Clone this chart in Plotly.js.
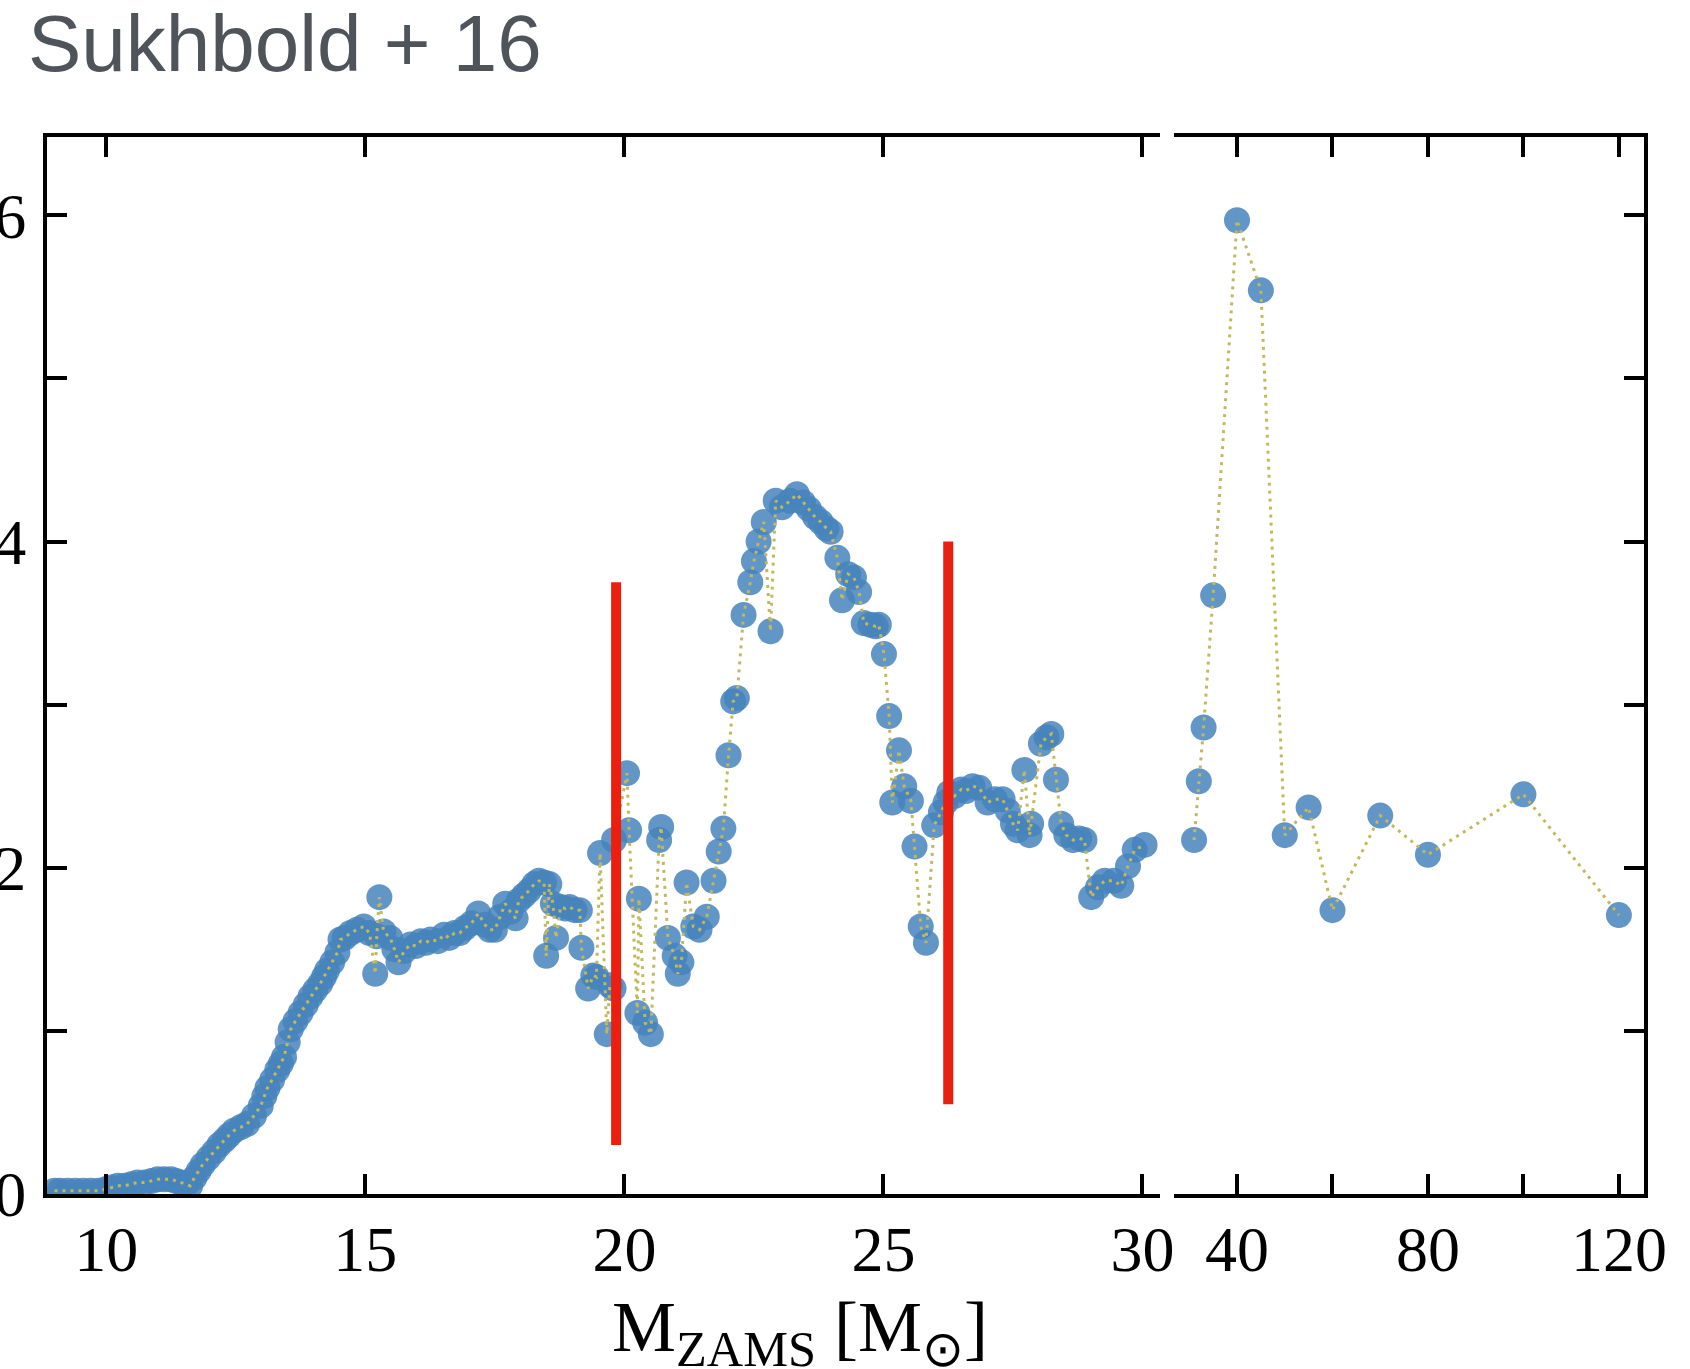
<!DOCTYPE html>
<html>
<head>
<meta charset="utf-8">
<script src="https://cdn.plot.ly/plotly-3.0.1.min.js"></script>
<style>
  html, body { margin: 0; padding: 0; background: #ffffff; }
  #chart { width: 1690px; height: 1369px; }
</style>
</head>
<body>
<div id="chart"></div>
<script>
// ---- Data ----
// Left panel: 9 - 30 Msun
const massLow = [
  9.0, 9.1, 9.25, 9.4, 9.55, 9.7, 9.85, 10.0, 10.1, 10.22, 10.35, 10.48, 10.6, 10.74, 10.87, 10.99,
  11.12, 11.25, 11.35, 11.44, 11.55, 11.62, 11.7, 11.78, 11.86, 11.97, 12.08, 12.18, 12.28, 12.37,
  12.47, 12.6, 12.72, 12.85, 12.98, 13.05, 13.11, 13.2, 13.3, 13.37, 13.43, 13.5, 13.56, 13.65,
  13.75, 13.85, 13.94, 14.03, 14.13, 14.2, 14.26, 14.36, 14.46, 14.52, 14.6, 14.71, 14.84, 14.97,
  15.08, 15.19, 15.22, 15.27, 15.35, 15.48, 15.56, 15.64, 15.75, 15.87, 15.97, 16.07, 16.17, 16.26,
  16.4, 16.52, 16.62, 16.72, 16.82, 16.92, 17.05, 17.18, 17.31, 17.4, 17.5, 17.6, 17.7, 17.8,
  17.9, 17.96, 18.06, 18.16, 18.26, 18.35, 18.45, 18.49, 18.55, 18.62, 18.68, 18.77, 18.86, 18.94,
  19.04, 19.14, 19.17, 19.3, 19.4, 19.46, 19.53, 19.66, 19.72, 19.79, 19.8, 20.05, 20.09, 20.25,
  20.28, 20.4, 20.51, 20.67, 20.71, 20.84, 20.97, 21.03, 21.1, 21.2, 21.33, 21.45, 21.59, 21.72,
  21.82, 21.91, 22.01, 22.1, 22.17, 22.3, 22.43, 22.5, 22.59, 22.69, 22.82, 22.92, 23.04, 23.2,
  23.33, 23.45, 23.56, 23.68, 23.79, 23.9, 23.98, 24.11, 24.2, 24.32, 24.43, 24.53, 24.62, 24.75,
  24.85, 24.91, 25.01, 25.11, 25.17, 25.3, 25.4, 25.53, 25.6, 25.72, 25.82, 25.98, 26.11, 26.2,
  26.27, 26.37, 26.5, 26.59, 26.72, 26.85, 27.01, 27.15, 27.3, 27.4, 27.5, 27.59, 27.72, 27.82,
  27.85, 28.04, 28.15, 28.24, 28.33, 28.43, 28.53, 28.66, 28.78, 28.88, 29.01, 29.14, 29.27, 29.45,
  29.59, 29.72, 29.85, 30.04
];
const valueLow = [
  0.02, 0.02, 0.02, 0.02, 0.02, 0.02, 0.02, 0.03, 0.04, 0.05, 0.05, 0.06, 0.07, 0.07, 0.08, 0.09,
  0.09, 0.09, 0.08, 0.07, 0.06, 0.05, 0.10, 0.14, 0.18, 0.22, 0.26, 0.30, 0.33, 0.36,
  0.39, 0.41, 0.43, 0.48, 0.54, 0.60, 0.65, 0.70, 0.76, 0.80, 0.84, 0.93, 1.01, 1.06,
  1.11, 1.16, 1.21, 1.25, 1.29, 1.33, 1.37, 1.42, 1.48, 1.56, 1.57, 1.60, 1.62, 1.64,
  1.60, 1.35, 1.58, 1.82, 1.61, 1.57, 1.50, 1.42, 1.49, 1.53, 1.52, 1.55, 1.54, 1.56,
  1.55, 1.59, 1.57, 1.60, 1.60, 1.63, 1.66, 1.72, 1.65, 1.62, 1.62, 1.70, 1.78, 1.73,
  1.69, 1.80, 1.83, 1.86, 1.90, 1.92, 1.91, 1.46, 1.90, 1.78, 1.57, 1.76, 1.75, 1.76,
  1.74, 1.74, 1.51, 1.26, 1.34, 1.33, 2.09, 0.98, 1.28, 1.26, 2.17, 2.58, 2.23, 1.11,
  1.81, 1.05, 0.98, 2.17, 2.25, 1.57, 1.46, 1.35, 1.42, 1.91, 1.64, 1.62, 1.70, 1.92,
  2.10, 2.24, 2.69, 3.02, 3.04, 3.55, 3.75, 3.88, 4.00, 4.12, 3.45, 4.25, 4.21, 4.25,
  4.29, 4.24, 4.20, 4.15, 4.12, 4.08, 4.06, 3.90, 3.64, 3.80, 3.78, 3.69, 3.50, 3.49,
  3.48, 3.49, 3.31, 2.93, 2.40, 2.72, 2.50, 2.41, 2.13, 1.64, 1.54, 2.26, 2.34, 2.40,
  2.46, 2.44, 2.48, 2.47, 2.50, 2.49, 2.40, 2.42, 2.42, 2.35, 2.27, 2.23, 2.60, 2.20,
  2.27, 2.76, 2.80, 2.82, 2.54, 2.27, 2.20, 2.17, 2.18, 2.17, 1.82, 1.88, 1.92, 1.92,
  1.89, 2.01, 2.11, 2.14
];
// Right panel: 31 - 120 Msun
const massHigh = [31, 32, 33, 35, 40, 45, 50, 55, 60, 70, 80, 100, 120];
const valueHigh = [2.17, 2.53, 2.86, 3.67, 5.97, 5.54, 2.20, 2.37, 1.74, 2.32, 2.08, 2.45, 1.71];

// Red vertical markers
const redMass = [19.84, 26.25];
const redBottom = [0.30, 0.55];
const redTop = [3.75, 4.00];

// Tick labels
const yTickVals = [0, 1, 2, 3, 4, 5, 6];
const yTickText = ['0', '', '2', '', '4', '', '6'];
const xLowTicks = [10, 15, 20, 25, 30];
const xHighTicks = [40, 60, 80, 100, 120];
const xHighText = ['40', '', '80', '', '120'];

// ---- Styling ----
const markerColor = 'rgba(70,132,188,0.85)';
const dotColor = 'rgb(196,184,92)';
const redColor = 'rgb(236,30,14)';
const serif = 'Liberation Serif, Times New Roman, serif';

function markerTrace(x, y, xa, ya) {
  return { x: x, y: y, xaxis: xa, yaxis: ya, type: 'scatter', mode: 'markers',
    marker: { size: 26, color: markerColor, line: { width: 0 } }, hoverinfo: 'x+y' };
}
function lineTrace(x, y, xa, ya) {
  return { x: x, y: y, xaxis: xa, yaxis: ya, type: 'scatter', mode: 'lines',
    line: { color: dotColor, width: 3, dash: '3px,5px' }, hoverinfo: 'skip' };
}

const traces = [
  markerTrace(massLow, valueLow, 'x', 'y'),
  lineTrace(massLow, valueLow, 'x', 'y'),
  markerTrace(massHigh, valueHigh, 'x2', 'y2'),
  lineTrace(massHigh, valueHigh, 'x2', 'y2')
];
redMass.forEach(function (m, i) {
  traces.push({ x: [m, m], y: [redBottom[i], redTop[i]], xaxis: 'x', yaxis: 'y',
    type: 'scatter', mode: 'lines', line: { color: redColor, width: 10 }, hoverinfo: 'skip' });
});

const axisCommon = {
  showline: true, linecolor: '#000', linewidth: 4, ticks: 'inside', ticklen: 20, tickwidth: 4,
  tickcolor: '#000', showgrid: false, zeroline: false,
  tickfont: { family: serif, size: 64, color: '#000' }
};

const layout = {
  width: 1690, height: 1369,
  margin: { l: 47, r: 46, t: 137, b: 175 },
  paper_bgcolor: '#fff', plot_bgcolor: '#fff',
  showlegend: false,
  title: {
    text: 'Sukhbold + 16',
    font: { family: 'Liberation Sans, Arial, sans-serif', size: 80, color: '#4f545a' },
    xref: 'container', x: 28 / 1690, xanchor: 'left',
    yref: 'container', y: 1 - 43 / 1369, yanchor: 'middle'
  },
  xaxis: Object.assign({}, axisCommon, {
    domain: [0, 0.697], range: [8.855, 30.34], anchor: 'y', mirror: 'ticks',
    tickvals: xLowTicks, ticklabelstandoff: -4
  }),
  yaxis: Object.assign({}, axisCommon, {
    domain: [0, 1], range: [0, 6.48], anchor: 'x', side: 'left', mirror: false,
    tickvals: yTickVals, ticktext: yTickText, ticklabelstandoff: 4
  }),
  xaxis2: Object.assign({}, axisCommon, {
    domain: [0.706, 1], range: [26.9, 125.26], anchor: 'y2', mirror: 'ticks',
    tickvals: xHighTicks, ticktext: xHighText, ticklabelstandoff: -4
  }),
  yaxis2: Object.assign({}, axisCommon, {
    domain: [0, 1], range: [0, 6.48], anchor: 'x2', side: 'right', mirror: false,
    tickvals: yTickVals, showticklabels: false
  }),
  annotations: [{
    xref: 'paper', yref: 'paper', x: 0.4714, y: -0.131, xanchor: 'center', yanchor: 'middle',
    text: 'M<sub>ZAMS</sub> [M<sub>⊙</sub>]', showarrow: false,
    font: { family: serif, size: 72, color: '#000' }
  }]
};

Plotly.newPlot('chart', traces, layout, { displayModeBar: false, staticPlot: true });
</script>
</body>
</html>
